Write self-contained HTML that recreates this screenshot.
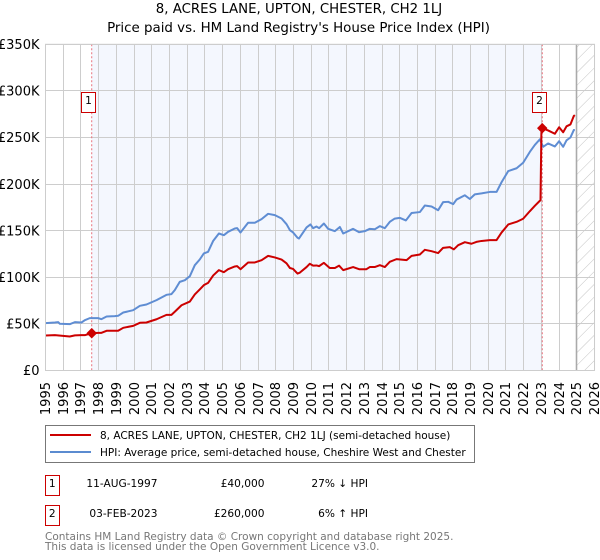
<!DOCTYPE html>
<html>
<head>
<meta charset="utf-8">
<style>
html,body{margin:0;padding:0;background:#fff;}
#wrap{position:relative;width:600px;height:560px;overflow:hidden;}
svg{position:absolute;left:0;top:0;}
text{font-family:"DejaVu Sans","Liberation Sans",sans-serif;fill:#000;}
</style>
</head>
<body>
<div id="wrap">
<svg id="chart" width="600" height="560" viewBox="0 0 600 560">
<defs>
<pattern id="hatch" width="9" height="9" patternUnits="userSpaceOnUse" patternTransform="rotate(45)">
<line x1="0" y1="0" x2="0" y2="9" stroke="#c4c4c4" stroke-width="1"/>
</pattern>
</defs>
<text x="299" y="13" text-anchor="middle" font-size="13.33">8, ACRES LANE, UPTON, CHESTER, CH2 1LJ</text>
<text x="298.5" y="32" text-anchor="middle" font-size="13.4">Price paid vs. HM Land Registry's House Price Index (HPI)</text>
<g id="plot"></g>

<g>
<rect x="45.5" y="425.5" width="429" height="37" fill="#fff" stroke="#777" stroke-width="1"/>
<line x1="50" y1="435" x2="91" y2="435" stroke="#cc0000" stroke-width="2"/>
<text x="100" y="439" font-size="10.5">8, ACRES LANE, UPTON, CHESTER, CH2 1LJ (semi-detached house)</text>
<line x1="50" y1="452" x2="91" y2="452" stroke="#5b8bd0" stroke-width="2"/>
<text x="100" y="456" font-size="10.5">HPI: Average price, semi-detached house, Cheshire West and Chester</text>
</g>

<g>
<rect x="45.5" y="475.5" width="14" height="20" fill="#fff" stroke="#cc0000" stroke-width="1"/>
<text x="52.3" y="487" text-anchor="middle" font-size="10.6">1</text>
<text x="157.5" y="487" text-anchor="end" font-size="10.6">11-AUG-1997</text>
<text x="264.5" y="487" text-anchor="end" font-size="10.6">£40,000</text>
<text x="368" y="487" text-anchor="end" font-size="10.6">27% ↓ HPI</text>
<rect x="45.5" y="505.5" width="14" height="20" fill="#fff" stroke="#cc0000" stroke-width="1"/>
<text x="52.3" y="517" text-anchor="middle" font-size="10.6">2</text>
<text x="157.5" y="517" text-anchor="end" font-size="10.6">03-FEB-2023</text>
<text x="264.5" y="517" text-anchor="end" font-size="10.6">£260,000</text>
<text x="368" y="517" text-anchor="end" font-size="10.6">6% ↑ HPI</text>
</g>

<text x="45" y="540" font-size="10.5" style="fill:#777">Contains HM Land Registry data © Crown copyright and database right 2025.</text>
<text x="45" y="550" font-size="10.5" style="fill:#777">This data is licensed under the Open Government Licence v3.0.</text>
</svg>
</div>
<script>
const yearTicks = [1995,1996,1997,1998,1999,2000,2001,2002,2003,2004,2005,2006,2007,2008,2009,2010,2011,2012,2013,2014,2015,2016,2017,2018,2019,2020,2021,2022,2023,2024,2025,2026];
const priceTicks = [0,50000,100000,150000,200000,250000,300000,350000];
const priceTickLabels = ['£0','£50K','£100K','£150K','£200K','£250K','£300K','£350K'];

const hpiDates = [1995,1995.53,1995.72,1995.81,1996.37,1996.66,1997.03,1997.22,1997.5,1997.97,1998.16,1998.45,1998.91,1999.1,1999.39,1999.95,2000.33,2000.7,2001.27,2001.83,2002.11,2002.3,2002.58,2002.87,2003.15,2003.43,2003.71,2003.94,2004.18,2004.47,2004.79,2005.07,2005.31,2005.69,2005.82,2006.01,2006.44,2006.82,2007.2,2007.57,2007.95,2008.33,2008.61,2008.8,2008.98,2009.23,2009.31,2009.74,2009.96,2010.11,2010.3,2010.45,2010.72,2010.96,2011.34,2011.62,2011.81,2012.37,2012.71,2013.03,2013.31,2013.59,2013.88,2014.16,2014.44,2014.72,2015,2015.35,2015.67,2016.14,2016.42,2016.8,2017.17,2017.45,2017.74,2018.02,2018.21,2018.68,2018.96,2019.24,2019.62,2020.09,2020.47,2020.75,2021.13,2021.6,2021.97,2022.35,2022.63,2022.91,2023.1,2023.38,2023.76,2024,2024.23,2024.42,2024.64,2024.83,2024.89];
const hpiValues = [50.8,51.5,51.9,50.1,49.7,51.9,51.5,54,56.2,56.2,55.1,57.9,58.3,58.7,62.2,64.7,69.4,70.8,75.5,81.2,81.9,86.2,95.1,96.9,101.2,113,119.1,125.6,127.3,139.1,147,145.2,148.8,152.4,152.7,148.1,158.5,158.5,162.4,168.1,166.7,163.1,157,150.6,148.1,142.4,141.6,153.5,156.7,152.7,154.5,152.7,157.7,152,149.5,154,147,152,148.4,149.5,152,151.5,154.9,152.7,159.5,163,163.8,161,169,170,177,176,172,180.6,181,178.5,183.4,188,184,189,190,191.6,191.6,202,214,217,222.9,234.6,242,248,240,243.6,240.4,246,240,247,250,258,258];

const paidDates = [1995,1995.53,1996.37,1996.66,1997.03,1997.22,1997.61,1997.97,1998.16,1998.45,1998.91,1999.1,1999.39,1999.95,2000.33,2000.7,2001.27,2001.83,2002.11,2002.3,2002.68,2003.15,2003.43,2003.71,2003.94,2004.18,2004.47,2004.79,2005.07,2005.31,2005.69,2005.82,2006.01,2006.44,2006.82,2007.2,2007.57,2007.95,2008.33,2008.61,2008.8,2008.98,2009.23,2009.36,2009.74,2009.92,2010.11,2010.3,2010.45,2010.72,2011.05,2011.34,2011.58,2011.81,2012.37,2012.71,2013.12,2013.31,2013.59,2013.88,2014.16,2014.44,2014.82,2015.39,2015.67,2016.14,2016.42,2016.8,2017.17,2017.45,2017.83,2018.06,2018.3,2018.68,2019.05,2019.33,2019.62,2020.09,2020.47,2020.75,2021.13,2021.6,2021.97,2022.35,2022.63,2022.95,2023,2023.05,2023.38,2023.76,2024,2024.23,2024.42,2024.64,2024.83,2024.89];
const paidValues = [37.6,37.9,36.5,37.7,37.9,37.9,40,40.4,40.4,42.6,42.6,42.6,45.8,47.9,51.2,51.5,55,59.7,59.7,63,70,74,81.6,87,91.6,94,102,107.7,105.5,108.7,111.6,112,108.7,115.9,115.9,118.4,123,121.3,119,115,110,109,104,105,111,114.5,112.5,112.7,112,115.5,110,110,112.5,107.7,111,108.7,108.7,111,111,113,111,116.6,119.5,118.4,123,124.5,129.5,128,126,131.6,132.4,130,134.5,137.7,136,138,139,139.9,139.9,148,156.7,159.5,162.8,171,176.7,182.8,255,260,257.6,254,261,255.6,262,264,273,274];

const saleDates = [1997.61,2023.05];
const salePrices = [40000,260000];
const saleLabels = ['1','2'];

const NS = 'http://www.w3.org/2000/svg';
const plot = document.getElementById('plot');
const X0 = 45.5, YEAR_W = 17.71, Y0 = 370.5, PER_50K = 46.6;
function xAt(year){ return X0 + (year - 1995) * YEAR_W; }
function snapX(year){ return Math.floor(xAt(year) + 0.01) + 0.5; }
function yAt(v){ return Y0 - v / 50000 * PER_50K; }
function make(tag, attrs){
  const el = document.createElementNS(NS, tag);
  for (const k in attrs) el.setAttribute(k, attrs[k]);
  plot.appendChild(el);
  return el;
}
const xMin = xAt(1995), xMax = xAt(2026), yTop = yAt(350000), yBot = yAt(0);

const shade = make('rect', {x: xAt(saleDates[0]), y: yTop, width: xAt(saleDates[1]) - xAt(saleDates[0]), height: yBot - yTop, fill: '#f4f7fe'});



const hatch = make('rect', {x: xAt(2025), y: yTop, width: xMax - xAt(2025), height: yBot - yTop, fill: 'url(#hatch)'});



priceTicks.forEach(function(v, i){
  const y = Math.round(yAt(v) - 0.5) + 0.5;
  const g = make('line', {x1: xMin, x2: xMax, y1: y, y2: y, stroke: '#cdcdcd', 'stroke-width': 1});
  
  
  const t = make('text', {x: 39.5, y: yAt(v) + 4.7, 'text-anchor': 'end', 'font-size': 13});
  
  
  t.textContent = priceTickLabels[i];
});
yearTicks.forEach(function(yr){
  const x = snapX(yr);
  const g = make('line', {x1: x, x2: x, y1: yTop, y2: yBot, stroke: '#cdcdcd', 'stroke-width': 1});
  
  
  const t = make('text', {x: 0, y: 0, 'text-anchor': 'end', 'font-size': 13, transform: 'translate(' + (x + 4.7) + ',' + 382 + ') rotate(-90)'});
  
  
  t.textContent = yr;
});
const edge = make('line', {x1: snapX(2025), x2: snapX(2025), y1: yTop, y2: yBot, stroke: '#aaaaaa', 'stroke-width': 1.6});



saleDates.forEach(function(d){
  const l = make('line', {x1: xAt(d), x2: xAt(d), y1: yTop, y2: yBot, stroke: '#e8707c', 'stroke-width': 1, 'stroke-dasharray': '2 2'});
  
  
});

function pointsOf(dates, values){
  return dates.map(function(d, i){ return xAt(d).toFixed(2) + ',' + yAt(values[i] * 1000).toFixed(2); }).join(' ');
}
const hpiLine = make('polyline', {points: pointsOf(hpiDates, hpiValues), fill: 'none', stroke: '#5f8dd3', 'stroke-width': 2, 'stroke-linejoin': 'round'});


const paidLine = make('polyline', {points: pointsOf(paidDates, paidValues), fill: 'none', stroke: '#cc0000', 'stroke-width': 2, 'stroke-linejoin': 'round'});



saleDates.forEach(function(d, i){
  const cx = xAt(d), cy = yAt(salePrices[i]), r = 4.6;
  const m = make('polygon', {points: [[cx, cy - r], [cx + r, cy], [cx, cy + r], [cx - r, cy]].join(' '), fill: '#cc0000', stroke: '#cc0000', 'stroke-width': 1, 'stroke-linejoin': 'round'});
  
  
  const bx = Math.floor(cx - 10.2) + 0.5;
  const b = make('rect', {x: bx, y: 92.5, width: 14, height: 20, fill: '#fff', stroke: '#cc0000', 'stroke-width': 1});
  
  
  const t = make('text', {x: bx + 7, y: 104.2, 'text-anchor': 'middle', 'font-size': 10.6});
  
  
  t.textContent = saleLabels[i];
});

const frame = make('rect', {x: xMin, y: yTop, width: xMax - xMin, height: yBot - yTop, fill: 'none', stroke: '#cdcdcd', 'stroke-width': 1});


</script>
</body>
</html>
